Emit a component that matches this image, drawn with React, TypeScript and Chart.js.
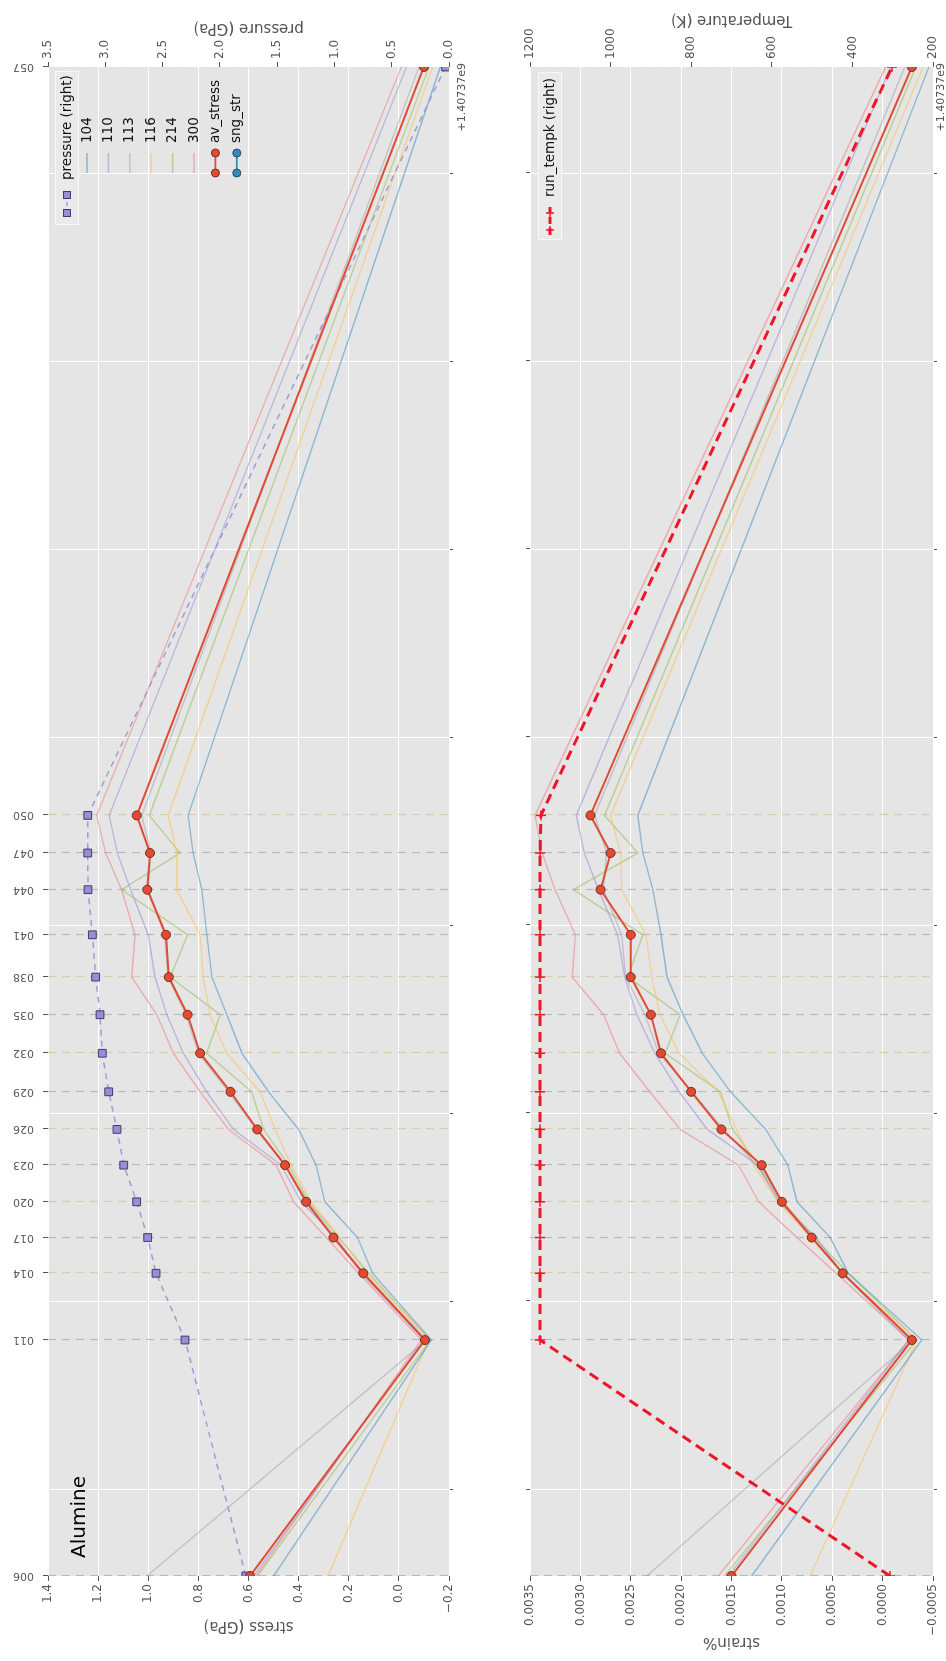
import React, { useEffect, useRef } from 'react';
import { Chart, registerables } from 'chart.js';

Chart.register(...registerables);

// ---------------- data ----------------
const runIds = ['006', '011', '014', '017', '020', '023', '026', '029', '032', '035', '038', '041', '044', '047', '050', '057'];
// time, seconds after 1.40737e9
const timeOffsets = [1080, 3590, 4300, 4680, 5060, 5450, 5830, 6230, 6640, 7050, 7450, 7900, 8380, 8770, 9170, 17130];
const majorTimeTicks = [2000, 4000, 6000, 8000, 10000, 12000, 14000, 16000];
const timeOffsetLabel = '+1.40737e9';

const peakLabels = ['104', '110', '113', '116', '214', '300'];

// stress (GPa) per reflection
const stress104 = [0.50, -0.13, 0.105, 0.165, 0.295, 0.33, 0.40, 0.52, 0.626, 0.686, 0.746, 0.766, 0.786, 0.821, 0.841, -0.165];
const stress110 = [0.58, -0.10, 0.15, 0.25, 0.39, 0.47, 0.66, 0.767, 0.86, 0.926, 0.973, 1.0, 1.07, 1.123, 1.156, -0.03];
const stress113 = [1.005, -0.11, 0.14, 0.255, 0.365, 0.455, 0.57, 0.68, 0.80, 0.85, 0.92, 0.935, 1.0, 0.99, 1.026, -0.08];
const stress116 = [0.283, -0.12, 0.13, 0.235, 0.35, 0.43, 0.494, 0.554, 0.687, 0.753, 0.781, 0.793, 0.886, 0.886, 0.92, -0.135];
const stress214 = [0.565, -0.125, 0.12, 0.24, 0.36, 0.44, 0.54, 0.587, 0.767, 0.713, 0.913, 0.843, 1.106, 0.873, 0.996, -0.12];
const stress300 = [0.57, -0.09, 0.16, 0.29, 0.42, 0.49, 0.68, 0.793, 0.90, 0.966, 1.066, 1.053, 1.106, 1.17, 1.206, -0.01];
const avStress = [0.594, -0.104, 0.142, 0.261, 0.370, 0.454, 0.565, 0.672, 0.793, 0.843, 0.918, 0.929, 1.004, 0.993, 1.046, -0.100];
const pressureGPa = [1.774, 2.304, 2.557, 2.630, 2.726, 2.839, 2.898, 2.970, 3.026, 3.046, 3.084, 3.113, 3.151, 3.153, 3.153, 0.03];

// strain per reflection
const strain104 = [0.0013, -0.00039, 0.00034, 0.00052, 0.00085, 0.00094, 0.00116, 0.00151, 0.00179, 0.00198, 0.00214, 0.0022, 0.00228, 0.00238, 0.00243, -0.00046];
const strain110 = [0.00153, -0.00026, 0.0004, 0.00066, 0.00103, 0.00124, 0.00174, 0.00202, 0.00226, 0.00244, 0.00256, 0.00263, 0.00282, 0.00296, 0.00304, -0.00008];
const strain113 = [0.00234, -0.0003, 0.00039, 0.0007, 0.00101, 0.00125, 0.00158, 0.00189, 0.00222, 0.00236, 0.00255, 0.00259, 0.00277, 0.00274, 0.00286, -0.00022];
const strain116 = [0.00072, -0.00034, 0.0004, 0.00071, 0.00104, 0.00128, 0.00145, 0.00163, 0.00202, 0.00221, 0.00229, 0.00235, 0.00259, 0.0026, 0.0027, -0.0004];
const strain214 = [0.00157, -0.00034, 0.00034, 0.00068, 0.00099, 0.00123, 0.00149, 0.00161, 0.00216, 0.00201, 0.00253, 0.00238, 0.00307, 0.00243, 0.00276, -0.00033];
const strain300 = [0.00163, -0.00026, 0.00046, 0.00085, 0.00123, 0.00143, 0.00201, 0.00231, 0.00261, 0.00277, 0.00308, 0.00305, 0.00325, 0.00338, 0.00345, -0.00003];
const avStrain = [0.0015, -0.00029, 0.000396, 0.000704, 0.001, 0.0012, 0.0016, 0.0019, 0.0022, 0.0023, 0.0025, 0.0025, 0.0028, 0.0027, 0.0029, -0.00029];
const runTempK = [307, 1175, 1175, 1175, 1175, 1175, 1175, 1175, 1175, 1175, 1175, 1175, 1175, 1175, 1173, 302];

const stressSeries = [stress104, stress110, stress113, stress116, stress214, stress300];
const strainSeries = [strain104, strain110, strain113, strain116, strain214, strain300];

// ---------------- styles ----------------
const FAMILY = '"DejaVu Sans", "Liberation Sans", Arial, sans-serif';
const TICK_GREY = '#555555';
const PANEL_BG = '#E5E5E5';
const RED = '#E24A33';
const BLUE = '#348ABD';
const PURPLE = '#988ED5';
const TEMP_RED = '#EE1526';
const peakColors = [
  'rgba(52,138,189,0.5)',
  'rgba(152,142,213,0.55)',
  'rgba(140,140,160,0.4)',
  'rgba(251,193,94,0.6)',
  'rgba(142,186,66,0.5)',
  'rgba(238,140,145,0.65)',
];
const beigeIds = ['014', '020', '026', '032', '038', '050'];

const W = 1661;
const TOP_H = 490;
const BOT_H = 456;

function font(size: number) {
  return `${size}px ${FAMILY}`;
}

function fmt(v: number, d: number) {
  const n = Math.abs(v) < 1e-12 ? 0 : v;
  const s = n.toFixed(d);
  return s.charAt(0) === '-' ? '\u2212' + s.slice(1) : s;
}

function pts(vals: number[]) {
  return timeOffsets.map((t, i) => ({ x: t, y: vals[i] }));
}

function xAxis(h: number) {
  return {
    type: 'linear',
    position: 'bottom',
    min: timeOffsets[0],
    max: timeOffsets[timeOffsets.length - 1],
    afterBuildTicks: (s: any) => {
      s.ticks = majorTimeTicks.map((v) => ({ value: v }));
    },
    afterFit: (s: any) => {
      s.height = h;
    },
    ticks: { autoSkip: false, callback: () => '', font: { family: FAMILY, size: 2 } },
    grid: { color: '#FFFFFF', lineWidth: 1, drawTicks: true, tickLength: 4, tickColor: TICK_GREY },
    border: { display: false },
  };
}

function vAxis(pos: string, min: number, max: number, step: number, dec: number, width: number, gridOn: boolean) {
  return {
    type: 'linear',
    position: pos,
    min,
    max,
    afterFit: (s: any) => {
      s.width = width;
    },
    ticks: {
      stepSize: step,
      color: TICK_GREY,
      font: { family: FAMILY, size: 12 },
      padding: 3,
      callback: (v: any) => fmt(Number(v), dec),
    },
    grid: {
      color: '#FFFFFF',
      lineWidth: 1,
      drawOnChartArea: gridOn,
      drawTicks: true,
      tickLength: 5,
      tickColor: TICK_GREY,
    },
    border: { display: false },
  };
}

function rotText(ctx: CanvasRenderingContext2D, text: string, x: number, y: number, size: number, color: string, align: CanvasTextAlign) {
  ctx.save();
  ctx.translate(x, y);
  ctx.rotate(-Math.PI / 2);
  ctx.font = font(size);
  ctx.fillStyle = color;
  ctx.textAlign = align;
  ctx.textBaseline = 'middle';
  ctx.fillText(text, 0, 0);
  ctx.restore();
}

function line(ctx: CanvasRenderingContext2D, x1: number, y1: number, x2: number, y2: number, color: string, w: number, dash: number[]) {
  ctx.save();
  ctx.strokeStyle = color;
  ctx.lineWidth = w;
  ctx.setLineDash(dash);
  ctx.beginPath();
  ctx.moveTo(x1, y1);
  ctx.lineTo(x2, y2);
  ctx.stroke();
  ctx.restore();
}

function circle(ctx: CanvasRenderingContext2D, x: number, y: number, r: number, fill: string, stroke: string) {
  ctx.save();
  ctx.beginPath();
  ctx.arc(x, y, r, 0, Math.PI * 2);
  ctx.fillStyle = fill;
  ctx.fill();
  ctx.strokeStyle = stroke;
  ctx.lineWidth = 1;
  ctx.stroke();
  ctx.restore();
}

function square(ctx: CanvasRenderingContext2D, x: number, y: number, h: number, fill: string, stroke: string) {
  ctx.save();
  ctx.fillStyle = fill;
  ctx.fillRect(x - h, y - h, 2 * h, 2 * h);
  ctx.strokeStyle = stroke;
  ctx.lineWidth = 1;
  ctx.strokeRect(x - h, y - h, 2 * h, 2 * h);
  ctx.restore();
}

function cross(ctx: CanvasRenderingContext2D, x: number, y: number, r: number, color: string) {
  line(ctx, x - r, y, x + r, y, color, 1.5, []);
  line(ctx, x, y - r, x, y + r, color, 1.5, []);
}

function legendText(ctx: CanvasRenderingContext2D, text: string, x: number, y: number) {
  ctx.save();
  ctx.font = font(13.5);
  ctx.fillStyle = '#111111';
  ctx.textAlign = 'left';
  ctx.textBaseline = 'middle';
  ctx.fillText(text, x, y);
  ctx.restore();
}

function drawTopLegend(ctx: CanvasRenderingContext2D) {
  // secondary-axis legend
  ctx.save();
  ctx.fillStyle = '#EAEAEA';
  ctx.fillRect(1436, 55, 154, 24);
  ctx.strokeStyle = '#F8F8F8';
  ctx.lineWidth = 1;
  ctx.strokeRect(1436.5, 55.5, 153, 23);
  ctx.restore();
  const yA = 67;
  line(ctx, 1448, yA, 1466, yA, 'rgba(152,142,213,0.85)', 1.5, [4, 3]);
  square(ctx, 1448, yA, 3.5, PURPLE, '#3E3A6B');
  square(ctx, 1466, yA, 3.5, PURPLE, '#3E3A6B');
  legendText(ctx, 'pressure (right)', 1481, yA);

  // primary legend
  const entries = [
    ...peakLabels.map((l, i) => ({ label: l, color: peakColors[i], marker: false, mk: '' })),
    { label: 'av_stress', color: RED, marker: true, mk: '#7A2A1C' },
    { label: 'sng_str', color: BLUE, marker: true, mk: '#1F4F70' },
  ];
  entries.forEach((e, i) => {
    const y = 87 + i * 21.4;
    line(ctx, 1488, y, 1508, y, e.color, e.marker ? 1.8 : 1.5, []);
    if (e.marker) {
      circle(ctx, 1488, y, 4, e.color, e.mk);
      circle(ctx, 1508, y, 4, e.color, e.mk);
    }
    legendText(ctx, e.label, 1518, y);
  });
}

function drawBottomLegend(ctx: CanvasRenderingContext2D) {
  ctx.save();
  ctx.fillStyle = '#EAEAEA';
  ctx.fillRect(1421, 48, 168, 24);
  ctx.strokeStyle = '#F8F8F8';
  ctx.lineWidth = 1;
  ctx.strokeRect(1421.5, 48.5, 167, 23);
  ctx.restore();
  const y = 60;
  line(ctx, 1426, y, 1454, y, TEMP_RED, 3, [7, 4]);
  cross(ctx, 1431, y, 4, TEMP_RED);
  cross(ctx, 1448, y, 4, TEMP_RED);
  legendText(ctx, 'run_tempk (right)', 1464, y);
}

function decorPlugin(kind: 'top' | 'bottom') {
  return {
    id: 'decor_' + kind,
    beforeDraw(chart: any) {
      const { ctx, chartArea: a, width, height } = chart;
      ctx.save();
      ctx.fillStyle = '#FFFFFF';
      ctx.fillRect(0, 0, width, height);
      ctx.fillStyle = PANEL_BG;
      ctx.fillRect(a.left, a.top, a.right - a.left, a.bottom - a.top);
      ctx.restore();
    },
    beforeDatasetsDraw(chart: any) {
      const { ctx, chartArea: a, scales } = chart;
      const xs = scales.x;
      ctx.save();
      ctx.beginPath();
      ctx.rect(a.left, a.top, a.right - a.left, a.bottom - a.top);
      ctx.clip();
      timeOffsets.forEach((t, i) => {
        const px = Math.round(xs.getPixelForValue(t)) + 0.5;
        const c = beigeIds.indexOf(runIds[i]) >= 0 ? 'rgba(214,202,168,0.9)' : 'rgba(175,175,175,0.8)';
        line(ctx, px, a.top, px, a.bottom, c, 1.2, [8, 6]);
      });
      ctx.restore();
    },
    afterDraw(chart: any) {
      const { ctx, chartArea: a, scales } = chart;
      const xs = scales.x;
      const mid = (a.top + a.bottom) / 2;
      if (kind === 'top') {
        timeOffsets.forEach((t, i) => {
          const px = Math.round(xs.getPixelForValue(t)) + 0.5;
          line(ctx, px, a.top - 5, px, a.top, TICK_GREY, 1, []);
          rotText(ctx, runIds[i], px, a.top - 14, 11, TICK_GREY, 'left');
        });
        rotText(ctx, 'stress (GPa)', 35, mid, 15, TICK_GREY, 'center');
        rotText(ctx, 'pressure (GPa)', 1633, mid, 15, TICK_GREY, 'center');
        drawTopLegend(ctx);
        ctx.save();
        ctx.font = font(20);
        ctx.fillStyle = '#000000';
        ctx.textAlign = 'left';
        ctx.textBaseline = 'alphabetic';
        ctx.fillText('Alumine', 103, 85);
        ctx.restore();
      } else {
        majorTimeTicks.forEach((t) => {
          const px = Math.round(xs.getPixelForValue(t)) + 0.5;
          line(ctx, px, a.top - 4, px, a.top, TICK_GREY, 1, []);
        });
        rotText(ctx, 'strain%', 19, mid, 15, TICK_GREY, 'center');
        rotText(ctx, 'Temperature (K)', 1641, mid, 15, TICK_GREY, 'center');
        drawBottomLegend(ctx);
      }
      ctx.save();
      ctx.font = font(11);
      ctx.fillStyle = TICK_GREY;
      ctx.textAlign = 'right';
      ctx.textBaseline = 'alphabetic';
      ctx.fillText(timeOffsetLabel, a.right + 4, kind === 'top' ? a.bottom + 16 : a.bottom + 11);
      ctx.restore();
    },
  };
}

function peakDatasets(series: number[][]) {
  return series.map((vals, i) => ({
    label: peakLabels[i],
    data: pts(vals),
    borderColor: peakColors[i],
    backgroundColor: peakColors[i],
    borderWidth: 1.4,
    pointRadius: 0,
    tension: 0,
    order: 5,
    clip: 0,
    yAxisID: 'y',
  }));
}

function baseOptions(scales: any, topPad: number) {
  return {
    responsive: false,
    maintainAspectRatio: false,
    animation: false,
    devicePixelRatio: 1,
    events: [],
    layout: { padding: { top: topPad, left: 0, right: 0, bottom: 0 } },
    plugins: { legend: { display: false }, tooltip: { enabled: false } },
    scales,
  };
}

function topConfig(): any {
  return {
    type: 'line',
    data: {
      datasets: [
        ...peakDatasets(stressSeries),
        {
          label: 'av_stress',
          data: pts(avStress),
          borderColor: RED,
          backgroundColor: RED,
          borderWidth: 2,
          pointRadius: 4.5,
          pointBackgroundColor: RED,
          pointBorderColor: '#7A2A1C',
          pointBorderWidth: 1,
          tension: 0,
          order: 1,
          clip: 0,
          yAxisID: 'y',
        },
        {
          label: 'pressure (right)',
          data: pts(pressureGPa),
          borderColor: 'rgba(152,142,213,0.85)',
          backgroundColor: PURPLE,
          borderWidth: 1.5,
          borderDash: [6, 5],
          pointStyle: 'rect',
          pointRadius: 5.5,
          pointBackgroundColor: PURPLE,
          pointBorderColor: '#3E3A6B',
          pointBorderWidth: 1,
          tension: 0,
          order: 2,
          clip: 0,
          yAxisID: 'y1',
        },
      ],
    },
    options: baseOptions(
      {
        x: xAxis(41),
        y: vAxis('left', -0.2, 1.4, 0.2, 1, 85, true),
        y1: vAxis('right', 0, 3.5, 0.5, 1, 67, false),
      },
      48
    ),
    plugins: [decorPlugin('top')],
  };
}

function bottomConfig(): any {
  return {
    type: 'line',
    data: {
      datasets: [
        ...peakDatasets(strainSeries),
        {
          label: 'av_strain',
          data: pts(avStrain),
          borderColor: RED,
          backgroundColor: RED,
          borderWidth: 2,
          pointRadius: 4.5,
          pointBackgroundColor: RED,
          pointBorderColor: '#7A2A1C',
          pointBorderWidth: 1,
          tension: 0,
          order: 1,
          clip: 0,
          yAxisID: 'y',
        },
        {
          label: 'run_tempk (right)',
          data: pts(runTempK),
          borderColor: TEMP_RED,
          backgroundColor: TEMP_RED,
          borderWidth: 3,
          borderDash: [10, 6],
          pointStyle: 'cross',
          pointRadius: 5,
          pointBorderColor: TEMP_RED,
          pointBorderWidth: 1.5,
          tension: 0,
          order: 0,
          clip: 0,
          yAxisID: 'y1',
        },
      ],
    },
    options: baseOptions(
      {
        x: xAxis(13),
        y: vAxis('left', -0.0005, 0.0035, 0.0005, 4, 85, true),
        y1: vAxis('right', 200, 1200, 200, 0, 67, false),
      },
      40
    ),
    plugins: [decorPlugin('bottom')],
  };
}

export default function App() {
  const topRef = useRef<HTMLCanvasElement>(null);
  const botRef = useRef<HTMLCanvasElement>(null);

  useEffect(() => {
    const c1 = new Chart(topRef.current as HTMLCanvasElement, topConfig());
    const c2 = new Chart(botRef.current as HTMLCanvasElement, bottomConfig());
    return () => {
      c1.destroy();
      c2.destroy();
    };
  }, []);

  return (
    <div style={{ position: 'absolute', left: 0, top: 0, width: 946, height: 1661, overflow: 'hidden', background: '#FFFFFF' }}>
      <div
        style={{
          position: 'absolute',
          left: 0,
          top: 0,
          width: W,
          height: TOP_H + BOT_H,
          transformOrigin: '0 0',
          transform: 'translate(0px, 1661px) rotate(-90deg)',
        }}
      >
        <canvas ref={topRef} width={W} height={TOP_H} style={{ display: 'block', width: W, height: TOP_H }} />
        <canvas ref={botRef} width={W} height={BOT_H} style={{ display: 'block', width: W, height: BOT_H }} />
      </div>
    </div>
  );
}
